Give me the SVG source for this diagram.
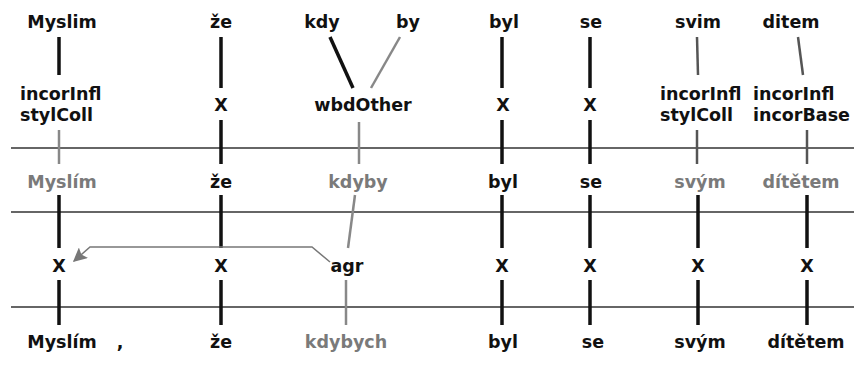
<svg xmlns="http://www.w3.org/2000/svg" width="854" height="369" viewBox="0 0 854 369">
<defs>
<style>
text{font-family:"DejaVu Sans","Liberation Sans",sans-serif;font-size:17.5px;font-weight:bold;fill:#111;text-anchor:middle}
.g{fill:#7a7a7a}
.l{text-anchor:start}
.rule{stroke:#333;stroke-width:1.5}
.k{stroke:#111;stroke-width:3.5;fill:none}
.m{stroke:#555;stroke-width:2.5;fill:none}
.p{stroke:#888;stroke-width:2.5;fill:none}
.arr{stroke:#777;stroke-width:1.5;fill:none}
</style>
<marker id="ah" viewBox="0 0 10 10" refX="9" refY="5" markerWidth="16" markerHeight="14" orient="auto" markerUnits="userSpaceOnUse">
<path d="M0,0 L10,5 L0,10 L2,5 z" fill="#777"/>
</marker>
</defs>
<rect width="854" height="369" fill="#fff"/>
<g id="rules">
<line class="rule" x1="11" y1="148" x2="854" y2="148"/>
<line class="rule" x1="11" y1="212" x2="854" y2="212"/>
<line class="rule" x1="11" y1="307" x2="854" y2="307"/>
</g>
<g id="connectors">
<line class="k" x1="59" y1="37" x2="59" y2="75"/>
<line class="p" x1="59" y1="130" x2="59" y2="164"/>
<line class="k" x1="59" y1="195" x2="59" y2="248"/>
<line class="k" x1="59" y1="280" x2="59" y2="325"/>
<line class="k" x1="221" y1="37" x2="221" y2="88"/>
<line class="k" x1="221" y1="120" x2="221" y2="164"/>
<line class="k" x1="221" y1="195" x2="221" y2="248"/>
<line class="k" x1="221" y1="280" x2="221" y2="325"/>
<line class="k" x1="330" y1="37" x2="353" y2="88"/>
<line class="p" x1="400" y1="37" x2="371" y2="88"/>
<line class="p" x1="359" y1="122" x2="359" y2="164"/>
<line class="p" x1="355" y1="195" x2="348" y2="248"/>
<line class="p" x1="346" y1="280" x2="346" y2="325"/>
<line class="k" x1="502" y1="37" x2="502" y2="88"/>
<line class="k" x1="502" y1="120" x2="502" y2="164"/>
<line class="k" x1="502" y1="195" x2="502" y2="248"/>
<line class="k" x1="502" y1="280" x2="502" y2="325"/>
<line class="k" x1="590" y1="37" x2="590" y2="88"/>
<line class="k" x1="590" y1="120" x2="590" y2="164"/>
<line class="k" x1="590" y1="195" x2="590" y2="248"/>
<line class="k" x1="590" y1="280" x2="590" y2="325"/>
<line class="m" x1="697" y1="37" x2="698" y2="75"/>
<line class="m" x1="697" y1="130" x2="697" y2="164"/>
<line class="k" x1="698" y1="195" x2="698" y2="248"/>
<line class="k" x1="698" y1="280" x2="698" y2="325"/>
<line class="m" x1="798" y1="37" x2="803" y2="75"/>
<line class="m" x1="807" y1="130" x2="807" y2="164"/>
<line class="k" x1="807" y1="195" x2="807" y2="248"/>
<line class="k" x1="807" y1="280" x2="807" y2="325"/>
<path class="arr" d="M330,262 L312,247 L90,247 L74,261" marker-end="url(#ah)"/>
</g>
<g id="row1">
<text x="62" y="28">Myslim</text>
<text x="221" y="28">že</text>
<text x="322" y="28">kdy</text>
<text x="408" y="28">by</text>
<text x="504" y="28">byl</text>
<text x="591" y="28">se</text>
<text x="698" y="28">svim</text>
<text x="791" y="28">ditem</text>
</g>
<g id="row-errors">
<text class="l" x="20" y="100">incorInfl</text>
<text class="l" x="20" y="121">stylColl</text>
<text x="221" y="111">X</text>
<text x="363" y="111">wbdOther</text>
<text x="503" y="111">X</text>
<text x="590" y="111">X</text>
<text class="l" x="660" y="100">incorInfl</text>
<text class="l" x="660" y="121">stylColl</text>
<text class="l" x="753" y="100">incorInfl</text>
<text class="l" x="753" y="121">incorBase</text>
</g>
<g id="row2">
<text class="g" x="62" y="188">Myslím</text>
<text x="221" y="188">že</text>
<text class="g" x="358" y="188">kdyby</text>
<text x="503" y="188">byl</text>
<text x="591" y="188">se</text>
<text class="g" x="700" y="188">svým</text>
<text class="g" x="801" y="188">dítětem</text>
</g>
<g id="row3">
<text x="59" y="272">X</text>
<text x="221" y="272">X</text>
<text x="347" y="272">agr</text>
<text x="502" y="272">X</text>
<text x="590" y="272">X</text>
<text x="698" y="272">X</text>
<text x="807" y="272">X</text>
</g>
<g id="row4">
<text x="62" y="348">Myslím</text>
<text x="120" y="348">,</text>
<text x="221" y="348">že</text>
<text class="g" x="346" y="348">kdybych</text>
<text x="503" y="348">byl</text>
<text x="593" y="348">se</text>
<text x="700" y="348">svým</text>
<text x="806" y="348">dítětem</text>
</g>
</svg>
